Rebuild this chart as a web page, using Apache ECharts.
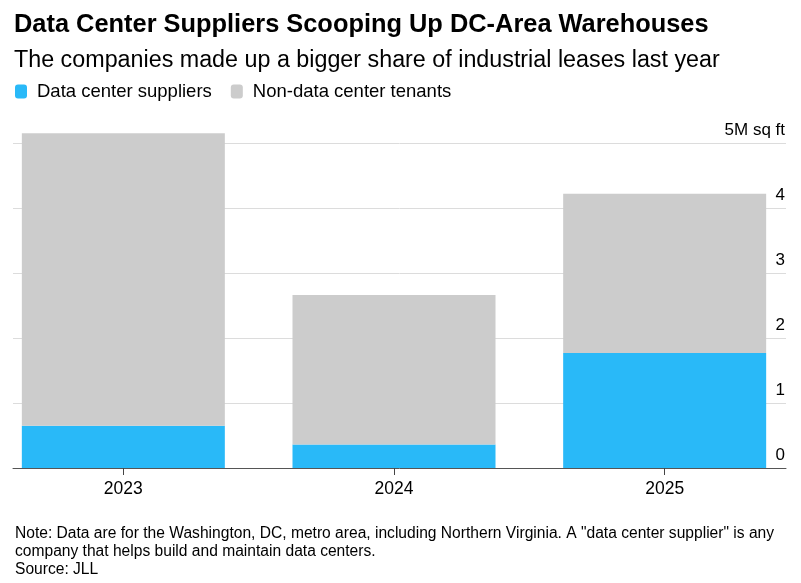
<!DOCTYPE html>
<html><head><meta charset="utf-8">
<script src="https://cdn.jsdelivr.net/npm/echarts@6/dist/echarts.min.js"></script>
<style>html,body{margin:0;padding:0;background:#fff}#c{width:801px;height:583px}</style>
</head><body><div id="c"></div>
<script>
const categories = ['2023', '2024', '2025'];
const dataCenterSuppliers = [0.65, 0.36, 1.77];
const nonDataCenterTenants = [4.50, 2.30, 2.45];
const yTicks = [0, 1, 2, 3, 4, 5];
const unitLabel = '5M sq ft';
const FONT = "'Liberation Sans', Arial, sans-serif";

const chart = echarts.init(document.getElementById('c'), null, {renderer: 'canvas'});
chart.setOption({
  animation: false,
  textStyle: {fontFamily: FONT},
  title: [
    {text: 'Data Center Suppliers Scooping Up DC-Area Warehouses', left: 9, top: 7,
     textStyle: {fontSize: 25.4, fontWeight: 'bold', color: '#000', fontFamily: FONT}},
    {text: 'The companies made up a bigger share of industrial leases last year', left: 9, top: 44,
     textStyle: {fontSize: 23.3, fontWeight: 'normal', color: '#000', fontFamily: FONT}},
    {text: 'Note: Data are for the Washington, DC, metro area, including Northern Virginia. A "data center supplier" is any\ncompany that helps build and maintain data centers.\nSource: JLL',
     left: 10, top: 520,
     textStyle: {fontSize: 15.6, fontWeight: 'normal', color: '#000', lineHeight: 18, fontFamily: FONT}}
  ],
  legend: {
    left: 10, top: 77, itemWidth: 12, itemHeight: 14, itemGap: 19, icon: 'roundRect',
    textStyle: {fontSize: 18.5, color: '#000', fontFamily: FONT, padding: [0, 0, 0, 5]},
    data: ['Data center suppliers', 'Non-data center tenants']
  },
  grid: [
    {left: -12, width: 812, top: 143, bottom: 115, outerBoundsMode: 'none', containLabel: false},
    {left: 13, right: 15, top: 143, bottom: 115, outerBoundsMode: 'none', containLabel: false}
  ],
  xAxis: [
    {type: 'category', gridIndex: 0, data: categories,
     axisLine: {show: false},
     axisTick: {show: true, alignWithLabel: true, length: 7, lineStyle: {color: '#444'}},
     axisLabel: {fontSize: 17.5, color: '#000', margin: 12}},
    {type: 'value', gridIndex: 1, min: 0, max: 1, position: 'bottom',
     axisLine: {show: true, onZero: false, lineStyle: {color: '#555', width: 1}},
     axisTick: {show: false}, axisLabel: {show: false}, splitLine: {show: false}}
  ],
  yAxis: [
    {type: 'value', gridIndex: 0, min: 0, max: 5, show: false, splitLine: {show: false}},
    {type: 'value', gridIndex: 1, min: 0, max: 5, interval: 1, position: 'right',
     axisLine: {show: false}, axisTick: {show: false},
     splitLine: {show: true, lineStyle: {color: '#dcdcdc', width: 1}},
     axisLabel: {inside: true, margin: 1, align: 'right', verticalAlign: 'bottom',
                 padding: [0, 0, 4, 0], fontSize: 17, color: '#000',
                 formatter: v => (v === yTicks[yTicks.length - 1] ? unitLabel : String(v))}}
  ],
  series: [
    {name: 'Data center suppliers', type: 'bar', stack: 'total', xAxisIndex: 0, yAxisIndex: 0,
     clip: false, barWidth: 203, itemStyle: {color: '#29b9f8'}, data: dataCenterSuppliers},
    {name: 'Non-data center tenants', type: 'bar', stack: 'total', xAxisIndex: 0, yAxisIndex: 0,
     clip: false, barWidth: 203, itemStyle: {color: '#cccccc'}, data: nonDataCenterTenants}
  ]
});
</script></body></html>
